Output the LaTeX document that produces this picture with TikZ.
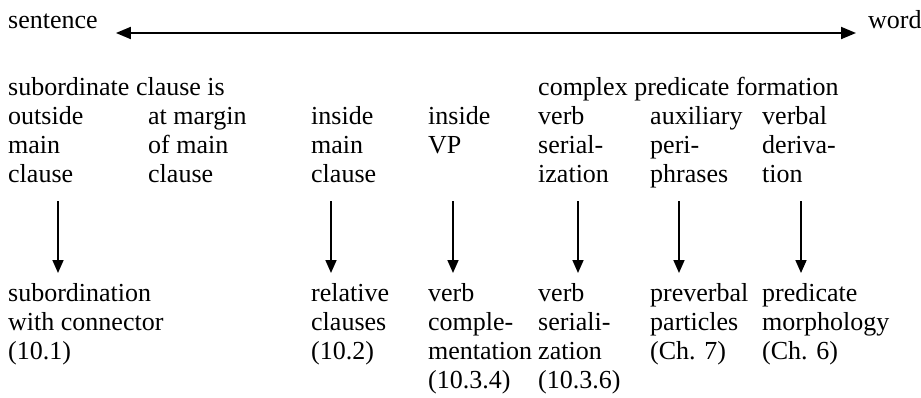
\documentclass[tikz,border=0pt]{standalone}
\usepackage{fontspec}
\setmainfont{Liberation Serif}
\usetikzlibrary{arrows.meta}

% column text set as a top-aligned tabular so the node baseline is the first line
\newcommand{\colstack}[1]{\begin{tabular}[t]{@{}l@{}}#1\end{tabular}}

\tikzset{
  lbl/.style={anchor=base west, inner sep=0pt, font=\fontsize{26}{29.3}\selectfont},
  scale line/.style={line width=1.9pt, {Triangle[length=15pt,width=12pt]}-{Triangle[length=15pt,width=12pt]}},
  down/.style={line width=1.7pt, -{Triangle[length=13pt,width=11pt]}},
}

\begin{document}
\begin{tikzpicture}[x=1pt,y=-1pt]
  \useasboundingbox[fill=white] (0,0) rectangle (921,397);

  % the scale from sentence to word
  \node[lbl] (sent) at (8,28) {sentence};
  \node[lbl] (word) at (868,28) {word};
  \draw[scale line] ([xshift=18pt,yshift=-5pt]sent.base east) -- ([xshift=-12pt,yshift=-5pt]word.base west);

  % group headings
  \node[lbl] (sub)  at (8,95)   {subordinate clause is};
  \node[lbl] (cpf)  at (538,95) {complex predicate formation};

  % construction types
  \node[lbl] (t1) at (8,124)   {\colstack{outside\\main\\clause}};
  \node[lbl] (t2) at (148,124) {\colstack{at margin\\of main\\clause}};
  \node[lbl] (t3) at (311,124) {\colstack{inside\\main\\clause}};
  \node[lbl] (t4) at (428,124) {\colstack{inside\\VP}};
  \node[lbl] (t5) at (538,124) {\colstack{verb\\serial-\\ization}};
  \node[lbl] (t6) at (650,124) {\colstack{auxiliary\\peri-\\phrases}};
  \node[lbl] (t7) at (762,124) {\colstack{verbal\\deriva-\\tion}};

  % resulting constructions
  \node[lbl] (b1) at (8,301)   {\colstack{subordination\\with connector\\(10.1)}};
  \node[lbl] (b3) at (311,301) {\colstack{relative\\clauses\\(10.2)}};
  \node[lbl] (b4) at (428,301) {\colstack{verb\\comple-\\mentation\\(10.3.4)}};
  \node[lbl] (b5) at (538,301) {\colstack{verb\\seriali-\\zation\\(10.3.6)}};
  \node[lbl] (b6) at (650,301) {\colstack{preverbal\\particles\\(Ch. 7)}};
  \node[lbl] (b7) at (762,301) {\colstack{predicate\\morphology\\(Ch. 6)}};

  % arrow ends
  \foreach \i/\x in {1/58,3/331,4/453,5/578,6/679,7/801}{
    \coordinate (s\i) at (\x,201);
    \coordinate (e\i) at (\x,273);
  }
  \foreach \i in {1,3,4,5,6,7}{
    \draw[down] (s\i) -- (e\i);
  }
\end{tikzpicture}
\end{document}
